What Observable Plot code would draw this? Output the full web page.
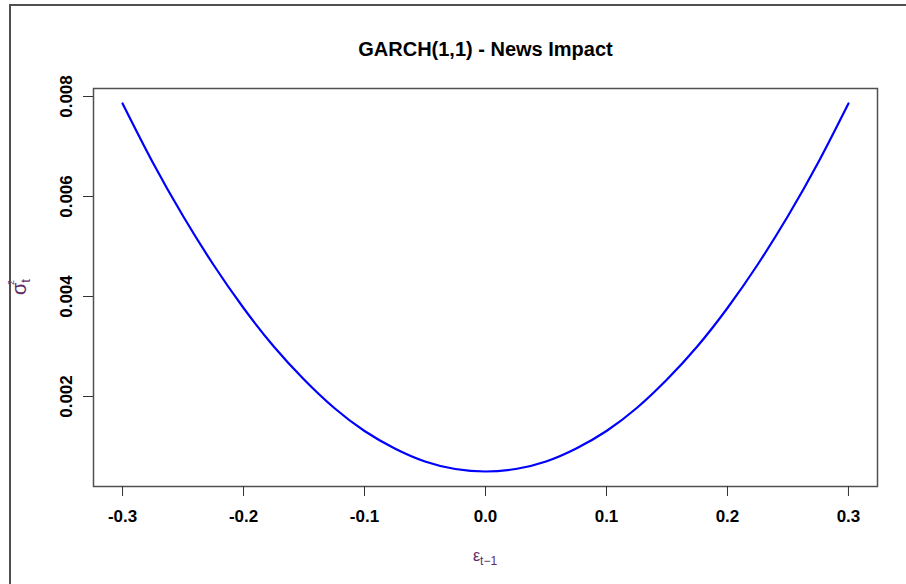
<!DOCTYPE html>
<html>
<head>
<meta charset="utf-8">
<script src="https://cdn.jsdelivr.net/npm/d3@7"></script>
<script src="https://cdn.jsdelivr.net/npm/@observablehq/plot@0.6"></script>
<style>
  html, body { margin: 0; padding: 0; background: #fff; overflow: hidden; }
  #wrap { position: relative; width: 906px; height: 584px; }
  #wrap svg { position: absolute; left: 0; top: 0; }
  #border { position: absolute; left: 9px; top: 4px; right: -10px; bottom: -10px;
            border-top: 2px solid #505050; border-left: 2px solid #505050; pointer-events: none; }
</style>
</head>
<body>
<div id="wrap"><div id="border"></div></div>
<script>
const title = "GARCH(1,1) - News Impact";
const epsilon = [-0.3, -0.275, -0.25, -0.225, -0.2, -0.175, -0.15, -0.125, -0.1, -0.075, -0.05, -0.025, 0,
                 0.025, 0.05, 0.075, 0.1, 0.125, 0.15, 0.175, 0.2, 0.225, 0.25, 0.275, 0.3];
const sigma2 = [0.00786, 0.00668, 0.00561, 0.00464, 0.00377, 0.00300, 0.00234, 0.00177, 0.00131, 0.00096, 0.00070, 0.00055, 0.00050,
                0.00055, 0.00070, 0.00096, 0.00131, 0.00177, 0.00234, 0.00300, 0.00377, 0.00464, 0.00561, 0.00668, 0.00786];
const xTicks = [-0.3, -0.2, -0.1, 0.0, 0.1, 0.2, 0.3];
const yTicks = [0.002, 0.004, 0.006, 0.008];

const data = epsilon.map((e, i) => ({e, s: sigma2[i]}));
const font = "'Liberation Sans', Arial, sans-serif";
const axisColor = "#333";

const chart = Plot.plot({
  width: 906,
  height: 584,
  marginLeft: 93,
  marginRight: 29,
  marginTop: 88,
  marginBottom: 98,
  style: {fontFamily: font, background: "transparent", overflow: "visible"},
  x: {domain: [-0.324, 0.324]},
  y: {domain: [0.0002, 0.00816]},
  marks: [
    Plot.frame({stroke: "#505050", strokeWidth: 1.5}),
    Plot.axisX({ticks: xTicks, tickSize: 10, tickPadding: 13, tickFormat: d => d.toFixed(1),
                fontSize: 17, fontWeight: "bold", fill: "#000", stroke: axisColor, label: null}),
    Plot.axisY({ticks: yTicks, tickSize: 10, tickFormat: () => "", stroke: axisColor, label: null}),
    Plot.text(yTicks, {y: d => d, text: d => d.toFixed(3), frameAnchor: "left", dx: -22,
                       rotate: -90, textAnchor: "middle", lineAnchor: "bottom",
                       fontSize: 17, fontWeight: "bold", fill: "#000"}),
    Plot.text([title], {frameAnchor: "top", dy: -32.5, lineAnchor: "bottom",
                        fontSize: 20, fontWeight: "bold", fill: "#000"}),
    Plot.line(data, {x: "e", y: "s", stroke: "#0000ff", strokeWidth: 2.2, curve: "natural"})
  ]
});
document.getElementById("wrap").prepend(chart);

// axis labels with sub/superscripts
const svg = d3.select(chart);
const labColor = "#5e2a66";
const xl = svg.append("text")
  .attr("x", 485).attr("y", 561)
  .attr("text-anchor", "middle")
  .attr("font-family", font).attr("font-size", 16).attr("fill", labColor);
xl.append("tspan").text("ε");
xl.append("tspan").attr("font-size", 12).attr("dy", 4).text("t−1");

const yl = svg.append("text")
  .attr("transform", "translate(26,287) rotate(-90)")
  .attr("text-anchor", "middle")
  .attr("font-family", font).attr("font-size", 20).attr("fill", labColor);
yl.append("tspan").text("σ");
yl.append("tspan").attr("font-size", 13).attr("dy", 4).text("t");
yl.append("tspan").attr("font-size", 9).attr("dx", -6).attr("dy", -16).text("2");
</script>
</body>
</html>
